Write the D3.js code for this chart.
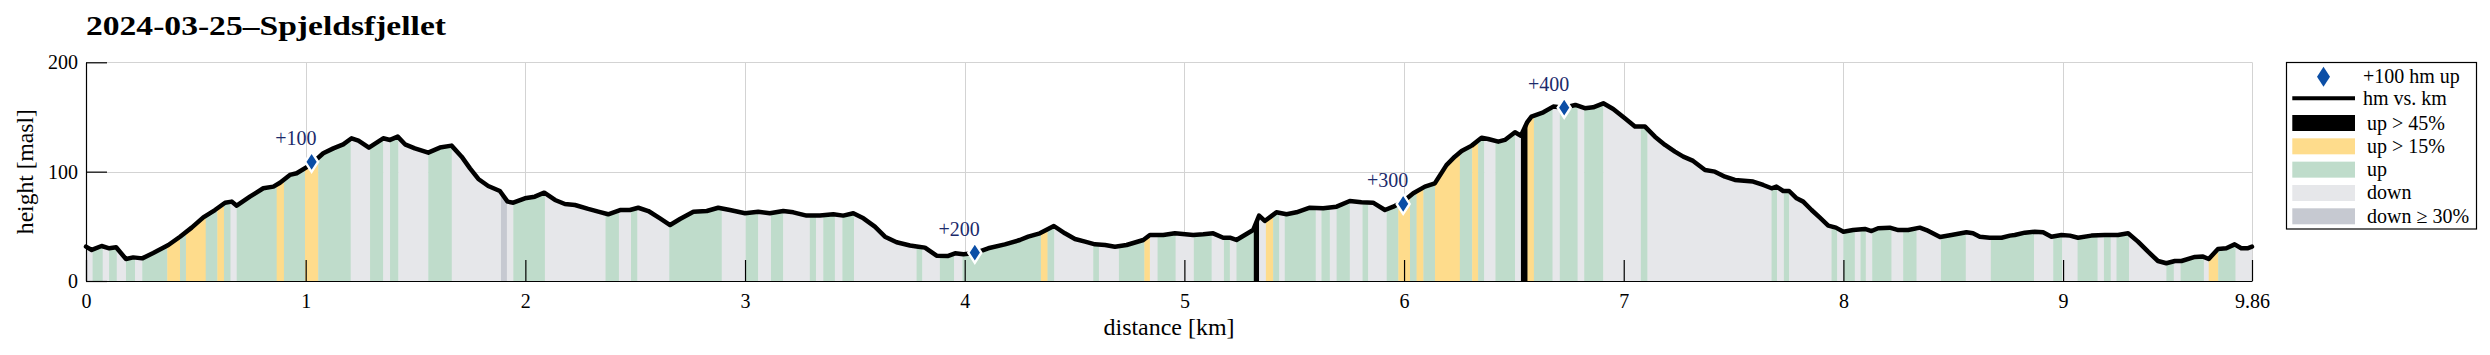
<!DOCTYPE html>
<html><head><meta charset="utf-8">
<script src="https://cdn.jsdelivr.net/npm/d3@7"></script>
<style>
body{margin:0;background:#fff;}
svg{display:block;font-family:"Liberation Serif","Times New Roman",serif;}
</style>
</head><body>
<svg id="c" width="2490" height="355"></svg>
<script>
// ---------------- data ----------------
const titleText = "2024-03-25–Spjeldsfjellet";
const xLabel = "distance [km]";
const yLabel = "height [masl]";

const distKm = [0,0.026,0.071,0.106,0.137,0.182,0.215,0.256,0.306,0.375,0.428,0.481,0.534,0.587,0.633,0.663,0.686,0.746,0.807,0.853,0.883,0.928,0.959,1.02,1.08,1.126,1.171,1.209,1.24,1.288,1.353,1.384,1.419,1.452,1.497,1.558,1.611,1.664,1.71,1.748,1.786,1.831,1.884,1.919,1.945,1.998,2.043,2.086,2.135,2.18,2.226,2.286,2.332,2.377,2.431,2.476,2.514,2.56,2.613,2.659,2.704,2.765,2.826,2.878,2.931,3.0,3.06,3.113,3.174,3.22,3.28,3.341,3.402,3.447,3.493,3.539,3.591,3.637,3.69,3.751,3.789,3.819,3.872,3.925,3.956,3.994,4.046,4.107,4.183,4.251,4.289,4.342,4.406,4.456,4.502,4.548,4.593,4.639,4.684,4.737,4.813,4.843,4.904,4.957,5.04,5.086,5.131,5.177,5.207,5.237,5.275,5.313,5.34,5.366,5.419,5.465,5.51,5.571,5.632,5.693,5.753,5.806,5.859,5.913,5.951,5.996,6.042,6.095,6.14,6.193,6.231,6.262,6.308,6.353,6.383,6.429,6.459,6.505,6.532,6.56,6.58,6.634,6.679,6.729,6.78,6.823,6.861,6.907,6.952,7.005,7.051,7.097,7.142,7.188,7.233,7.271,7.316,7.37,7.415,7.461,7.506,7.589,7.635,7.673,7.695,7.726,7.753,7.787,7.817,7.855,7.893,7.931,7.966,8.0,8.044,8.098,8.128,8.158,8.211,8.25,8.295,8.348,8.378,8.44,8.492,8.56,8.59,8.621,8.666,8.72,8.758,8.78,8.826,8.871,8.909,8.947,8.993,9.031,9.068,9.129,9.19,9.25,9.296,9.341,9.387,9.432,9.47,9.509,9.539,9.6,9.637,9.663,9.705,9.743,9.781,9.811,9.839,9.86];
const heightM = [31.4,28.4,32,29.9,30.8,20.1,21.6,20.7,25.6,32.9,40.5,48.8,58.2,64.9,71.6,72.6,68.9,77.1,84.8,86.3,89.9,97,98.5,106,116.8,121.3,125,130.5,128.4,122,130.5,129,132,125,121.3,117.4,122,123.8,113.7,103,93.3,86.9,82.3,72.6,71.6,75.6,77.1,80.8,74.1,70.4,69.5,65.9,63.4,61,64.9,64.9,67,64,57.3,51.2,56.7,63.4,64,67,64.9,61.9,63.4,61.9,64,62.8,59.8,59.8,61,59.8,61.9,57.3,49.7,40.5,35.4,32.5,31.4,30.5,23.2,22.9,25.3,24.4,25.5,29.9,33.5,37.5,40.5,43.6,50.3,43.6,38.4,36,33.5,32.9,31.4,32.9,37.5,42.1,42.1,43.6,42.1,42.7,43.6,39.6,39.6,37.5,42.1,46.6,59.8,54.9,62.8,61,62.8,67,66.5,68,73.2,72,71.6,64.9,68,72.6,80.2,86.3,89.3,106,113.7,118.9,123.8,131.1,129.9,127.4,129,136,132.9,145,150.3,154.3,159.5,158.5,161,158,158.8,162.5,157.3,148.8,141.2,141.2,132,124.4,118.3,113.7,109.8,101.5,100,95.4,92.4,90.9,87.8,84.8,86.3,82.3,82.3,75.6,72.6,64.9,57.9,50.6,48.8,45.1,46.6,47.6,45.7,48.2,48.8,46.6,46.6,48.8,46.6,40.2,42.1,44.5,43.6,40.5,39.6,39.6,41.5,42.1,44.2,45.1,44.5,40.5,42.1,41.5,39.6,41.5,42.1,42.1,43.6,36,26.8,18.3,16.2,18.3,18.3,22,22.3,20.1,29.3,29.9,33.5,29.9,29.9,31.4];

// slope segments: boundaries (km) and category of each interval
const segBounds = [0,0.030,0.076,0.105,0.140,0.182,0.223,0.256,0.370,0.428,0.455,0.545,0.598,0.628,0.658,0.686,0.868,0.901,0.997,1.057,1.205,1.293,1.353,1.384,1.422,1.558,1.665,1.889,1.916,1.945,2.089,2.365,2.426,2.481,2.51,2.655,2.894,3.003,3.06,3.118,3.174,3.295,3.323,3.356,3.409,3.443,3.496,3.781,3.807,3.887,3.952,3.99,4.347,4.377,4.408,4.585,4.611,4.702,4.818,4.843,4.878,4.96,5.043,5.124,5.18,5.207,5.237,5.316,5.34,5.371,5.404,5.432,5.457,5.598,5.624,5.662,5.693,5.753,5.811,5.837,5.921,5.974,6.027,6.057,6.088,6.141,6.254,6.31,6.337,6.365,6.416,6.505,6.532,6.562,6.591,6.676,6.709,6.79,6.82,6.907,7.078,7.108,7.673,7.698,7.729,7.753,7.946,7.972,8.0,8.052,8.078,8.102,8.131,8.219,8.272,8.333,8.444,8.557,8.671,8.868,8.955,8.996,9.066,9.157,9.186,9.217,9.243,9.3,9.47,9.504,9.535,9.641,9.663,9.706,9.785,9.86];
const segCat = ["D","U","D","U","D","U","D","U","Y","U","Y","U","Y","U","D","U","Y","U","Y","U",
"D","U","D","U","D","U","D","G","D","U","D","U","D","U","D","U","D","U","D","U",
"D","U","D","U","D","U","D","U","D","U","D","U","Y","U","D","U","D","U","Y","D",
"U","D","U","D","U","D","U","B","D","Y","U","D","U","D","U","D","U","D","U","D",
"U","Y","U","Y","U","Y","U","Y","U","D","U","D","B","Y","U","D","U","D","U","D",
"U","D","U","D","U","D","U","D","U","D","U","D","U","D","U","D","U","D","U","D",
"U","D","U","D","U","D","U","D","U","D","U","D","Y","U","D"];

const catKeys = ["B","Y","U","D","G"];
const catNames = ["up > 45%","up > 15%","up","down","down ≥ 30%"];
const catColors = ["#000000","#fedc8c","#bfdccb","#e6e7ea","#c6c9d1"];

const markKm = [1.027,4.046,5.996,6.729];
const markH = [109,25.9,70.5,158.5];
const markLabels = ["+100","+200","+300","+400"];

const xTicks = [0,1,2,3,4,5,6,7,8,9,9.86];
const xTickLabels = ["0","1","2","3","4","5","6","7","8","9","9.86"];
const yTicks = [0,100,200];
const yTickLabels = ["0","100","200"];

const legendTop = ["+100 hm up","hm vs. km"];

// ---------------- drawing ----------------
const svg = d3.select("#c");
const x = d3.scaleLinear().domain([0, 9.86]).range([86, 2252]);
const y = d3.scaleLinear().domain([0, 200]).range([281, 62.3]);
const colorOf = d3.scaleOrdinal().domain(catKeys).range(catColors);
const pts = distKm.map((d,i)=>[d, heightM[i]]);
const FONT = "Liberation Serif";

// title
svg.append("text").attr("x",86).attr("y",34.5)
  .attr("font-size",28).attr("font-weight","bold")
  .attr("textLength",360).attr("lengthAdjust","spacingAndGlyphs")
  .text(titleText);

// grid
const grid = svg.append("g").attr("stroke","#d3d3d3").attr("stroke-width",1);
grid.selectAll("line.v").data(xTicks).join("line")
  .attr("x1",d=>Math.round(x(d))+0.5).attr("x2",d=>Math.round(x(d))+0.5)
  .attr("y1",y(200)).attr("y2",y(0));
grid.selectAll("line.h").data(yTicks).join("line")
  .attr("x1",x(0)).attr("x2",x(9.86))
  .attr("y1",d=>Math.round(y(d))+0.5).attr("y2",d=>Math.round(y(d))+0.5);

// clip to area under profile
const area = d3.area().x(d=>x(d[0])).y0(y(0)).y1(d=>y(d[1]));
svg.append("clipPath").attr("id","under").append("path").attr("d",area(pts));

const segs = segCat.map((c,i)=>({a:segBounds[i], b:segBounds[i+1], c}));
svg.append("g").attr("clip-path","url(#under)")
  .selectAll("rect").data(segs).join("rect")
  .attr("x",d=>x(d.a)).attr("width",d=>Math.max(0.5, x(d.b)-x(d.a)+0.4))
  .attr("y",y(200)).attr("height",y(0)-y(200))
  .attr("fill",d=>colorOf(d.c));

// profile line
const line = d3.line().x(d=>x(d[0])).y(d=>y(d[1]));
svg.append("path").attr("d",line(pts)).attr("fill","none")
  .attr("stroke","#000").attr("stroke-width",4.5)
  .attr("stroke-linejoin","round").attr("stroke-linecap","round");

// axes
const xAxis = d3.axisBottom(x).tickValues(xTicks).tickFormat((d,i)=>xTickLabels[i])
  .tickSizeInner(-21).tickSizeOuter(0).tickPadding(13);
const gx = svg.append("g").attr("transform",`translate(0,${y(0)})`).call(xAxis);
const yAxis = d3.axisLeft(y).tickValues(yTicks).tickFormat((d,i)=>yTickLabels[i])
  .tickSizeInner(-21).tickSizeOuter(0).tickPadding(8);
const gy = svg.append("g").attr("transform",`translate(${x(0)},0)`).call(yAxis);
[gx,gy].forEach(g=>{
  g.attr("font-family",FONT).attr("font-size",20);
  g.selectAll("path.domain").attr("stroke","#000").attr("stroke-width",1.2);
  g.selectAll(".tick line").attr("stroke","#000").attr("stroke-width",1.2);
  g.selectAll(".tick text").attr("fill","#000");
});

// axis labels
svg.append("text").attr("x",(x(0)+x(9.86))/2).attr("y",335)
  .attr("text-anchor","middle").attr("font-size",23)
  .attr("textLength",131).attr("lengthAdjust","spacingAndGlyphs").text(xLabel);
svg.append("text").attr("transform",`translate(33,${(y(0)+y(200))/2}) rotate(-90)`)
  .attr("text-anchor","middle").attr("font-size",23)
  .attr("textLength",125).attr("lengthAdjust","spacingAndGlyphs").text(yLabel);

// markers
const diamond = "M0,-10L6.5,0L0,10L-6.5,0Z";
const mk = svg.append("g");
mk.selectAll("path").data(markKm).join("path")
  .attr("d",diamond)
  .attr("transform",(d,i)=>`translate(${x(d)},${y(markH[i])})`)
  .attr("fill","#0b4ea6").attr("stroke","#fff").attr("stroke-width",2.4);
mk.selectAll("text").data(markKm).join("text")
  .attr("x",d=>x(d)+5).attr("y",(d,i)=>y(markH[i])-17)
  .attr("text-anchor","end").attr("font-size",20).attr("fill","#1b2a6b")
  .text((d,i)=>markLabels[i]);

// legend
const lg = svg.append("g");
lg.append("rect").attr("x",2286.5).attr("y",62.5).attr("width",190).attr("height",166.5)
  .attr("fill","#fff").attr("stroke","#000").attr("stroke-width",1.2);
lg.append("path").attr("d",diamond).attr("transform","translate(2323.5,76.7)")
  .attr("fill","#0b4ea6");
lg.append("text").attr("x",2363).attr("y",82.8).attr("font-size",20).text(legendTop[0]);
lg.append("line").attr("x1",2292.3).attr("x2",2355).attr("y1",98.3).attr("y2",98.3)
  .attr("stroke","#000").attr("stroke-width",4);
lg.append("text").attr("x",2363).attr("y",104.6).attr("font-size",20).text(legendTop[1]);
const rowY = d3.scaleLinear().domain([0,4]).range([123,216.3]);
lg.selectAll("rect.p").data(catKeys).join("rect").attr("class","p")
  .attr("x",2292.3).attr("width",62.7).attr("y",(d,i)=>rowY(i)-8).attr("height",16)
  .attr("fill",d=>colorOf(d));
lg.selectAll("text.p").data(catNames).join("text").attr("class","p")
  .attr("x",2367).attr("y",(d,i)=>rowY(i)+6.5).attr("font-size",20).text(d=>d);
</script>
</body></html>
